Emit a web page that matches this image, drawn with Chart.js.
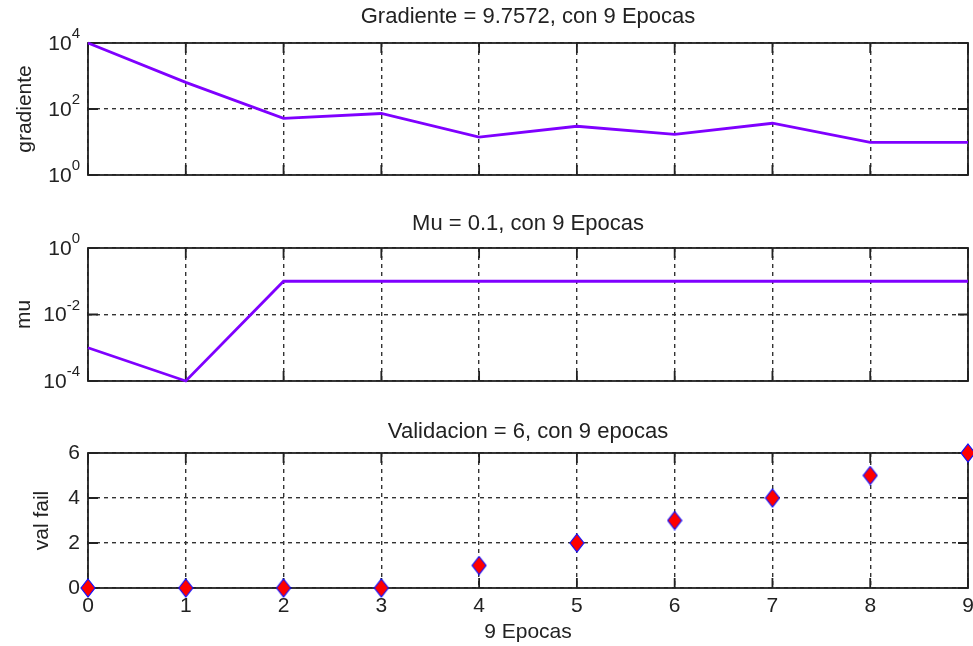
<!DOCTYPE html>
<html>
<head>
<meta charset="utf-8">
<title>Entrenamiento</title>
<script src="https://cdn.jsdelivr.net/npm/chart.js@4.4.0/dist/chart.umd.min.js"></script>
<style>
  html, body { margin: 0; padding: 0; background: #fff; }
  #fig { position: relative; width: 973px; height: 646px; overflow: hidden; }
  #fig canvas { position: absolute; left: 0; }
</style>
</head>
<body>
<div id="fig">
  <canvas id="gradChart" width="990" height="200" style="top:0px"></canvas>
  <canvas id="muChart" width="990" height="205" style="top:200px"></canvas>
  <canvas id="valChart" width="990" height="241" style="top:405px"></canvas>
</div>
<script>
// training record, one value per epoch
const epochs = [0, 1, 2, 3, 4, 5, 6, 7, 8, 9];
const gradiente = [10000, 640, 52, 73, 14, 30, 17, 37, 9.8, 9.7572];
const mu = [0.001, 0.0001, 0.1, 0.1, 0.1, 0.1, 0.1, 0.1, 0.1, 0.1];
const valFail = [0, 0, 0, 0, 1, 2, 3, 4, 5, 6];

const gradTicks = [1, 100, 10000];
const muTicks = [0.0001, 0.01, 1];
const valTicks = [0, 2, 4, 6];

const FONT = 'Arial, "Liberation Sans", Helvetica, sans-serif';
const INK = '#222';
const PURPLE = '#7f00ff';

// red diamond with a thin blue edge, used as the marker image
function diamond(w, h) {
    const c = document.createElement('canvas');
    c.width = w + 2;
    c.height = h + 2;
    const g = c.getContext('2d');
    g.beginPath();
    g.moveTo(c.width / 2, 1);
    g.lineTo(w + 1, c.height / 2);
    g.lineTo(c.width / 2, h + 1);
    g.lineTo(1, c.height / 2);
    g.closePath();
    g.fillStyle = '#ff0000';
    g.fill();
    g.strokeStyle = '#1010ff';
    g.lineWidth = 1.2;
    g.stroke();
    return c;
}

// box around the axes plus short inward tick marks on every side
const frame = {
    id: 'frame',
    beforeDatasetsDraw(chart) {
        const { ctx, chartArea: a, scales } = chart;
        const tl = 10;
        ctx.save();
        ctx.strokeStyle = INK;
        ctx.lineWidth = 1.8;
        ctx.strokeRect(a.left, a.top, a.right - a.left, a.bottom - a.top);
        ctx.beginPath();
        scales.x.ticks.forEach(t => {
            const px = scales.x.getPixelForValue(t.value);
            ctx.moveTo(px, a.top); ctx.lineTo(px, a.top + tl);
            ctx.moveTo(px, a.bottom); ctx.lineTo(px, a.bottom - tl);
        });
        scales.y.ticks.forEach(t => {
            const py = scales.y.getPixelForValue(t.value);
            ctx.moveTo(a.left, py); ctx.lineTo(a.left + tl, py);
            ctx.moveTo(a.right, py); ctx.lineTo(a.right - tl, py);
        });
        ctx.stroke();
        ctx.restore();
    },
    // log axes get "10" with a raised exponent
    afterDraw(chart) {
        const s = chart.scales.y;
        if (s.type !== 'logarithmic') return;
        const ctx = chart.ctx;
        ctx.save();
        ctx.fillStyle = INK;
        ctx.textBaseline = 'middle';
        s.ticks.forEach(t => {
            const py = s.getPixelForValue(t.value);
            const exp = String(Math.round(Math.log10(t.value)));
            ctx.font = '15px ' + FONT;
            const ex = s.right - 8 - ctx.measureText(exp).width;
            ctx.textAlign = 'left';
            ctx.fillText(exp, ex, py - 9);
            ctx.font = '21px ' + FONT;
            ctx.textAlign = 'right';
            ctx.fillText('10', ex, py + 1);
        });
        ctx.restore();
    }
};

function subplot(id, cfg) {
    const font = { family: FONT, size: 21, weight: 'normal' };
    return new Chart(document.getElementById(id), {
        type: 'line',
        data: {
            datasets: [Object.assign({
                data: epochs.map((e, i) => ({ x: e, y: cfg.values[i] })),
                clip: false
            }, cfg.dataset)]
        },
        options: {
            responsive: false,
            animation: false,
            // the canvas runs past the figure edge so the last "9" is cut off
            layout: { padding: { left: 0, right: 22, top: 0, bottom: 0 } },
            plugins: {
                legend: { display: false },
                tooltip: { enabled: false },
                title: {
                    display: true,
                    text: cfg.title,
                    color: INK,
                    font: { family: FONT, size: 22, weight: 'normal' },
                    fullSize: false,
                    padding: cfg.titlePad
                }
            },
            scales: {
                x: {
                    type: 'linear',
                    min: 0,
                    max: 9,
                    afterBuildTicks(s) { s.ticks = epochs.map(v => ({ value: v })); },
                    ticks: { display: !!cfg.xTitle, color: INK, font: font, padding: 6, maxRotation: 0 },
                    grid: { color: '#333', lineWidth: 1.4, drawTicks: false },
                    border: { display: false, dash: [4, 4] },
                    title: { display: !!cfg.xTitle, text: cfg.xTitle, color: INK, font: font, padding: { top: 0, bottom: 1 } },
                    afterFit(s) { s.height = cfg.xHeight; s.paddingLeft = 0; s.paddingRight = 0; }
                },
                y: {
                    type: cfg.yType,
                    min: cfg.yTicks[0],
                    max: cfg.yTicks[cfg.yTicks.length - 1],
                    afterBuildTicks(s) { s.ticks = cfg.yTicks.map(v => ({ value: v })); },
                    ticks: { display: cfg.yType === 'linear', color: INK, font: font, padding: 8 },
                    grid: { color: '#333', lineWidth: 1.4, drawTicks: false },
                    border: { display: false, dash: [4, 4] },
                    title: { display: true, text: cfg.yTitle, color: INK, font: font, padding: { top: cfg.yTitlePad, bottom: 0 } },
                    afterFit(s) { s.width = 88; s.paddingTop = 0; s.paddingBottom = 0; }
                }
            }
        },
        plugins: [frame]
    });
}

const lineStyle = { borderColor: PURPLE, borderWidth: 2.8, pointRadius: 0, tension: 0 };

subplot('gradChart', {
    values: gradiente,
    title: 'Gradiente = 9.7572, con 9 Epocas',
    titlePad: { top: 4, bottom: 12.6 },
    yType: 'logarithmic',
    yTicks: gradTicks,
    yTitle: 'gradiente',
    yTitlePad: 13,
    xHeight: 25,
    dataset: lineStyle
});

subplot('muChart', {
    values: mu,
    title: 'Mu = 0.1, con 9 Epocas',
    titlePad: { top: 11, bottom: 10.6 },
    yType: 'logarithmic',
    yTicks: muTicks,
    yTitle: 'mu',
    yTitlePad: 12,
    xHeight: 24,
    dataset: lineStyle
});

subplot('valChart', {
    values: valFail,
    title: 'Validacion = 6, con 9 epocas',
    titlePad: { top: 14, bottom: 7.6 },
    yType: 'linear',
    yTicks: valTicks,
    yTitle: 'val fail',
    yTitlePad: 30,
    xTitle: '9 Epocas',
    xHeight: 58,
    dataset: { showLine: false, pointStyle: diamond(14, 18), pointRadius: 9 }
});
</script>
</body>
</html>
